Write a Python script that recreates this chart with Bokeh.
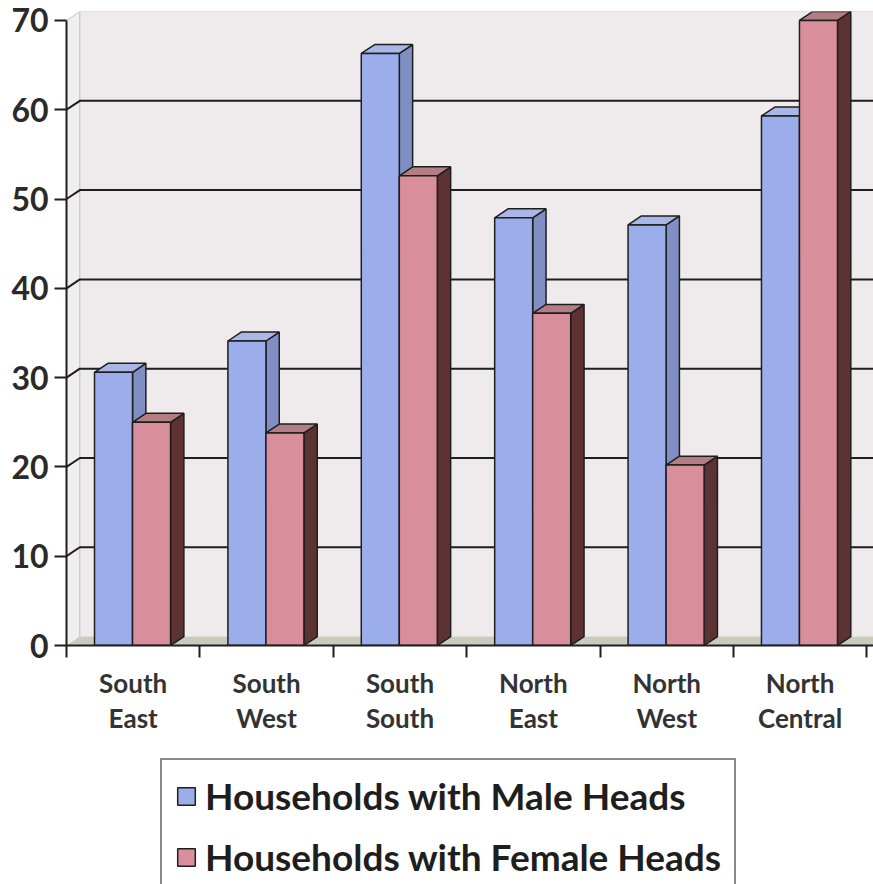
from bokeh.plotting import figure
from bokeh.layouts import column
from bokeh.models import Range1d, FixedTicker, Legend, LegendItem
from bokeh.embed import file_html
from bokeh.resources import INLINE

# ---- data ----
regions = ["South East", "South West", "South South", "North East", "North West", "North Central"]
region_labels = ["South\nEast", "South\nWest", "South\nSouth", "North\nEast", "North\nWest", "North\nCentral"]
male = [30.6, 34.1, 66.3, 47.9, 47.1, 59.3]
female = [25.0, 23.8, 52.6, 37.2, 20.2, 70.0]
y_ticks = [0, 10, 20, 30, 40, 50, 60, 70]
series_names = ["Households with Male Heads", "Households with Female Heads"]

# ---- styling constants ----
DX = 0.1      # depth offset (category units)
DY = 1.0      # depth offset (value units)
XMAX = 6.05
YTOP = 70
YMAX = YTOP + DY
FONT = "Lato"
DARK = "#1e1e1e"
W = 873
LEG_H = 130
MAIN_H = 884 - LEG_H

p = figure(width=W, height=MAIN_H, x_range=Range1d(0, XMAX), y_range=Range1d(0, YMAX),
           output_backend="svg", toolbar_location=None,
           min_border_left=66, min_border_right=0, min_border_top=11, min_border_bottom=MAIN_H - 645)
p.background_fill_color = "white"
p.border_fill_color = "white"
p.outline_line_color = None
p.xgrid.visible = False
p.ygrid.visible = False

# walls and floor
p.patch([DX, XMAX, XMAX, DX], [DY, DY, YMAX, YMAX], fill_color="#efebed", line_color=None)
p.patch([0, DX, DX, 0], [0, DY, YMAX, YTOP], fill_color="#f1eef0", line_color=None)
p.patch([0, DX, XMAX, XMAX], [0, DY, DY, 0], fill_color="#c9cbbd", line_color=None)
p.line([DX, DX], [DY, YMAX], line_color="#bdbdbd", line_width=1)
p.line([0, DX, XMAX], [YTOP, YMAX, YMAX], line_color="#c8c8c8", line_width=1)

# gridlines on the back wall
grid_vals = [v for v in y_ticks if 0 < v < YTOP]
p.multi_line([[0, DX, XMAX] for v in grid_vals],
             [[v, v + DY, v + DY] for v in grid_vals],
             line_color=DARK, line_width=2)

# bars
specs = [
    (male, -0.29, -0.005, "#9badea", "#a9b6e6", "#7f8fc4"),
    (female, -0.005, 0.28, "#d98e9b", "#b37e83", "#5c3232"),
]
for vals, lo, hi, c_front, c_top, c_side in specs:
    lefts = [i + 0.5 + lo for i in range(len(vals))]
    rights = [i + 0.5 + hi for i in range(len(vals))]
    side_xs = [[r, r, r + DX, r + DX] for r in rights]
    side_ys = [[0, v, v + DY, DY] for v in vals]
    p.patches(side_xs, side_ys, fill_color=c_side, line_color=DARK, line_width=1.5)
    top_xs = [[l, l + DX, r + DX, r] for l, r in zip(lefts, rights)]
    top_ys = [[v, v + DY, v + DY, v] for v in vals]
    p.patches(top_xs, top_ys, fill_color=c_top, line_color=DARK, line_width=1.5)
    p.quad(left=lefts, right=rights, bottom=0, top=vals,
           fill_color=c_front, line_color=DARK, line_width=1.5)

# y axis
ya = p.yaxis[0]
ya.ticker = FixedTicker(ticks=y_ticks)
ya.bounds = (0, YTOP)
ya.major_label_text_font = FONT
ya.major_label_text_font_style = "bold"
ya.major_label_text_font_size = "32px"
ya.major_label_text_color = "#2a2a2a"
ya.major_tick_out = 12
ya.major_tick_in = 0
ya.major_tick_line_width = 2
ya.major_tick_line_color = DARK
ya.minor_tick_line_color = None
ya.axis_line_width = 2
ya.axis_line_color = DARK
ya.major_label_standoff = 6

# x axis
xa = p.xaxis[0]
centers = [i + 0.5 for i in range(len(regions))]
xa.ticker = FixedTicker(ticks=centers, minor_ticks=list(range(len(regions) + 1)))
xa.major_label_overrides = {c: lab for c, lab in zip(centers, region_labels)}
xa.major_tick_out = 0
xa.major_tick_in = 0
xa.minor_tick_out = 12
xa.minor_tick_in = 0
xa.minor_tick_line_width = 2
xa.minor_tick_line_color = DARK
xa.axis_line_width = 2
xa.axis_line_color = DARK
xa.major_label_text_font = FONT
xa.major_label_text_font_style = "bold"
xa.major_label_text_font_size = "26px"
xa.major_label_text_color = "#333333"
xa.major_label_text_line_height = 1.12
xa.major_label_standoff = 9

# legend in its own strip below the chart (frames are aligned by the column)
pl = figure(width=W, height=LEG_H, x_range=Range1d(0, 1), y_range=Range1d(0, 1),
            output_backend="svg", toolbar_location=None,
            min_border_left=66, min_border_right=0, min_border_top=0, min_border_bottom=0)
pl.axis.visible = False
pl.xgrid.visible = False
pl.ygrid.visible = False
pl.outline_line_color = None
pl.background_fill_color = "white"
pl.border_fill_color = "white"
leg_renderers = []
for (vals, lo, hi, c_front, c_top, c_side) in specs:
    leg_renderers.append(pl.quad(left=[5], right=[6], bottom=[5], top=[6],
                                 fill_color=c_front, line_color=DARK, line_width=1.5))
legend = Legend(items=[LegendItem(label=n, renderers=[r]) for n, r in zip(series_names, leg_renderers)],
                location=(94, -10), orientation="vertical")
legend.label_text_font = FONT
legend.label_text_font_style = "bold"
legend.label_text_font_size = "37px"
legend.label_text_color = DARK
legend.label_height = 40
legend.label_standoff = 8
legend.glyph_width = 22
legend.glyph_height = 22
legend.spacing = 16
legend.padding = 13
legend.margin = 0
legend.border_line_color = "#111111"
legend.border_line_width = 2.5
legend.background_fill_color = "white"
legend.background_fill_alpha = 1.0
pl.add_layout(legend)

open("out.html", "w").write(file_html(column(p, pl, spacing=0), INLINE))
